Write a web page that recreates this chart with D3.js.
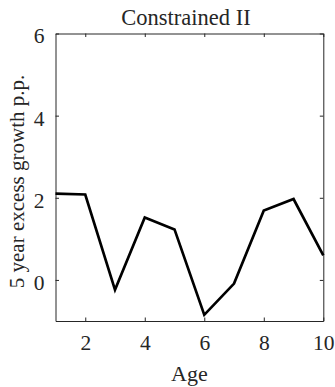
<!DOCTYPE html>
<html>
<head>
<meta charset="utf-8">
<script src="https://cdn.jsdelivr.net/npm/d3@7"></script>
<style>
  html, body { margin: 0; padding: 0; background: #fff; }
  svg { display: block; }
  text { font-family: "Liberation Serif", "Times New Roman", serif; fill: #262626; }
</style>
</head>
<body>
<svg id="chart" width="335" height="387"></svg>
<script>
// Excess growth by age
const ages = [1, 2, 3, 4, 5, 6, 7, 8, 9, 10];
const excessGrowth = [2.10, 2.08, -0.24, 1.52, 1.23, -0.85, -0.09, 1.69, 1.97, 0.60];
const xTicks = [2, 4, 6, 8, 10];
const yTicks = [0, 2, 4, 6];
const titleText = "Constrained II";
const xLabel = "Age";
const yLabel = "5 year excess growth p.p.";

const svg = d3.select("#chart");
const margin = { top: 33.5, right: 11.7, bottom: 66, left: 55.5 };
const W = 335, H = 387;
const innerW = W - margin.left - margin.right;
const innerH = H - margin.top - margin.bottom;

const x = d3.scaleLinear().domain([1, 10]).range([0, innerW]);
const y = d3.scaleLinear().domain([-1, 6]).range([innerH, 0]);

const g = svg.append("g").attr("transform", `translate(${margin.left},${margin.top})`);

const axisColor = "#262626";
const tickLen = 3.5;
const fmt = d3.format("d");

// Box-style axes with inward ticks on all four sides
const axisB = g.append("g").attr("transform", `translate(0,${innerH})`)
  .call(d3.axisBottom(x).tickValues(xTicks).tickFormat(fmt).tickSizeInner(-tickLen).tickSizeOuter(0).tickPadding(14));
const axisT = g.append("g")
  .call(d3.axisTop(x).tickValues(xTicks).tickSizeInner(-tickLen).tickSizeOuter(0).tickFormat(""));
const axisL = g.append("g")
  .call(d3.axisLeft(y).tickValues(yTicks).tickFormat(fmt).tickSizeInner(-tickLen).tickSizeOuter(0).tickPadding(11));
const axisR = g.append("g").attr("transform", `translate(${innerW},0)`)
  .call(d3.axisRight(y).tickValues(yTicks).tickSizeInner(-tickLen).tickSizeOuter(0).tickFormat(""));

[axisB, axisT, axisL, axisR].forEach(a => {
  a.selectAll("path.domain").attr("stroke", axisColor).attr("stroke-width", 1);
  a.selectAll(".tick line").attr("stroke", axisColor).attr("stroke-width", 1);
  a.selectAll(".tick text")
    .attr("font-family", "Liberation Serif, Times New Roman, serif")
    .attr("font-size", 21.5).attr("fill", axisColor);
});
axisL.selectAll(".tick text").attr("dy", "0.44em");

// Data line
const line = d3.line().x((d, i) => x(ages[i])).y(d => y(d));
g.append("path")
  .datum(excessGrowth)
  .attr("fill", "none")
  .attr("stroke", "#000")
  .attr("stroke-width", 2.7)
  .attr("stroke-linejoin", "miter")
  .attr("d", line);

// Title
svg.append("text")
  .attr("x", 186)
  .attr("y", 24.5)
  .attr("text-anchor", "middle")
  .attr("font-size", 22.5)
  .text(titleText);

// X axis label
svg.append("text")
  .attr("x", margin.left + innerW / 2)
  .attr("y", 381)
  .attr("text-anchor", "middle")
  .attr("font-size", 22)
  .text(xLabel);

// Y axis label
svg.append("text")
  .attr("transform", `translate(24,181.5) rotate(-90)`)
  .attr("text-anchor", "middle")
  .attr("font-size", 21)
  .text(yLabel);
</script>
</body>
</html>
